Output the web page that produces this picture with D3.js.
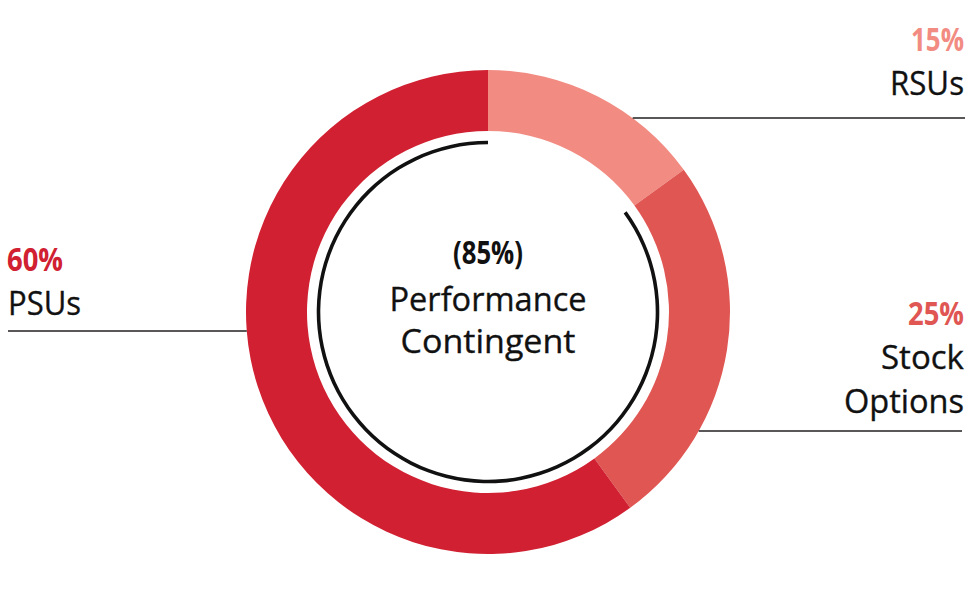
<!DOCTYPE html>
<html>
<head>
<meta charset="utf-8">
<script src="https://cdn.jsdelivr.net/npm/d3@7"></script>
<style>
  html, body { margin: 0; padding: 0; background: #ffffff; }
  svg { display: block; }
  text { font-family: "Open Sans", "Noto Sans", sans-serif; }
</style>
</head>
<body>
<svg id="chart" width="976" height="614"></svg>
<script>
// ---- data ----
const categories = ["RSUs", "Stock Options", "PSUs"];
const shares = [15, 25, 60];
const shareLabels = ["15%", "25%", "60%"];
const nameLines = [["RSUs"], ["Stock", "Options"], ["PSUs"]];
const centerShare = "(85%)";
const centerLines = ["Performance", "Contingent"];

// ---- style / layout ----
const colors = ["#f28c82", "#e05653", "#d02031"];
const W = 976, H = 614;
const cx = 488, cy = 312, R = 242, r = 181;
const ringR = 169.5, ringW = 3.6;

const svg = d3.select("#chart");
const g = svg.append("g").attr("transform", `translate(${cx},${cy})`);

const pie = d3.pie().sort(null).value(d => d)(shares);
const arc = d3.arc().innerRadius(r).outerRadius(R);

g.selectAll("path.slice")
  .data(pie)
  .join("path")
  .attr("class", "slice")
  .attr("d", arc)
  .attr("fill", (d, i) => colors[i]);

// black performance-contingent ring (Stock Options + PSUs)
const perfStart = pie[1].startAngle, perfEnd = pie[2].endAngle;
g.append("path")
  .attr("d", d3.arc()
    .innerRadius(ringR - ringW / 2)
    .outerRadius(ringR + ringW / 2)
    .startAngle(perfStart)
    .endAngle(perfEnd)())
  .attr("fill", "#111");

// center text
const ct = svg.append("g").attr("text-anchor", "middle");
ct.append("text").attr("x", cx).attr("y", 264)
  .attr("font-size", 32).attr("font-weight", 700).attr("fill", "#111")
  .attr("textLength", 70).attr("lengthAdjust", "spacingAndGlyphs")
  .text(centerShare);
const cw = [197, 175];
const cyLines = [311, 353];
centerLines.forEach((t, i) => {
  ct.append("text").attr("x", cx).attr("y", cyLines[i])
    .attr("font-size", 32.5).attr("fill", "#111")
    .attr("stroke", "#111").attr("stroke-width", 0.35)
    .attr("textLength", cw[i]).attr("lengthAdjust", "spacingAndGlyphs")
    .text(t);
});

// leader lines: horizontal lines from donut edge to the label side
const lineY = [118, 431, 331];
const side = [1, 1, -1];
const lineFar = [965, 962, 8];
lineY.forEach((y, i) => {
  const dy = y - cy;
  const x0 = cx + side[i] * Math.sqrt(R * R - dy * dy);
  svg.append("line")
    .attr("x1", x0).attr("x2", lineFar[i])
    .attr("y1", y).attr("y2", y)
    .attr("stroke", "#231f20").attr("stroke-width", 1.7);
});

// labels
const labelX = [964, 964, 7];
const anchor = ["end", "end", "start"];
const pctBase = [51, 325, 271];
const pctW = [53, 56, 56];
const nameW = [[74], [83, 120], [73]];
categories.forEach((c, i) => {
  svg.append("text")
    .attr("x", labelX[i]).attr("y", pctBase[i])
    .attr("text-anchor", anchor[i])
    .attr("font-size", 33).attr("font-weight", 700)
    .attr("fill", colors[i])
    .attr("textLength", pctW[i]).attr("lengthAdjust", "spacingAndGlyphs")
    .text(shareLabels[i]);
  nameLines[i].forEach((t, j) => {
    svg.append("text")
      .attr("x", labelX[i] + (anchor[i] === "start" ? 1 : 0))
      .attr("y", pctBase[i] + 44 * (j + 1))
      .attr("text-anchor", anchor[i])
      .attr("font-size", 32.5).attr("fill", "#111")
      .attr("stroke", "#111").attr("stroke-width", 0.35)
      .attr("textLength", nameW[i][j]).attr("lengthAdjust", "spacingAndGlyphs")
      .text(t);
  });
});
</script>
</body>
</html>
